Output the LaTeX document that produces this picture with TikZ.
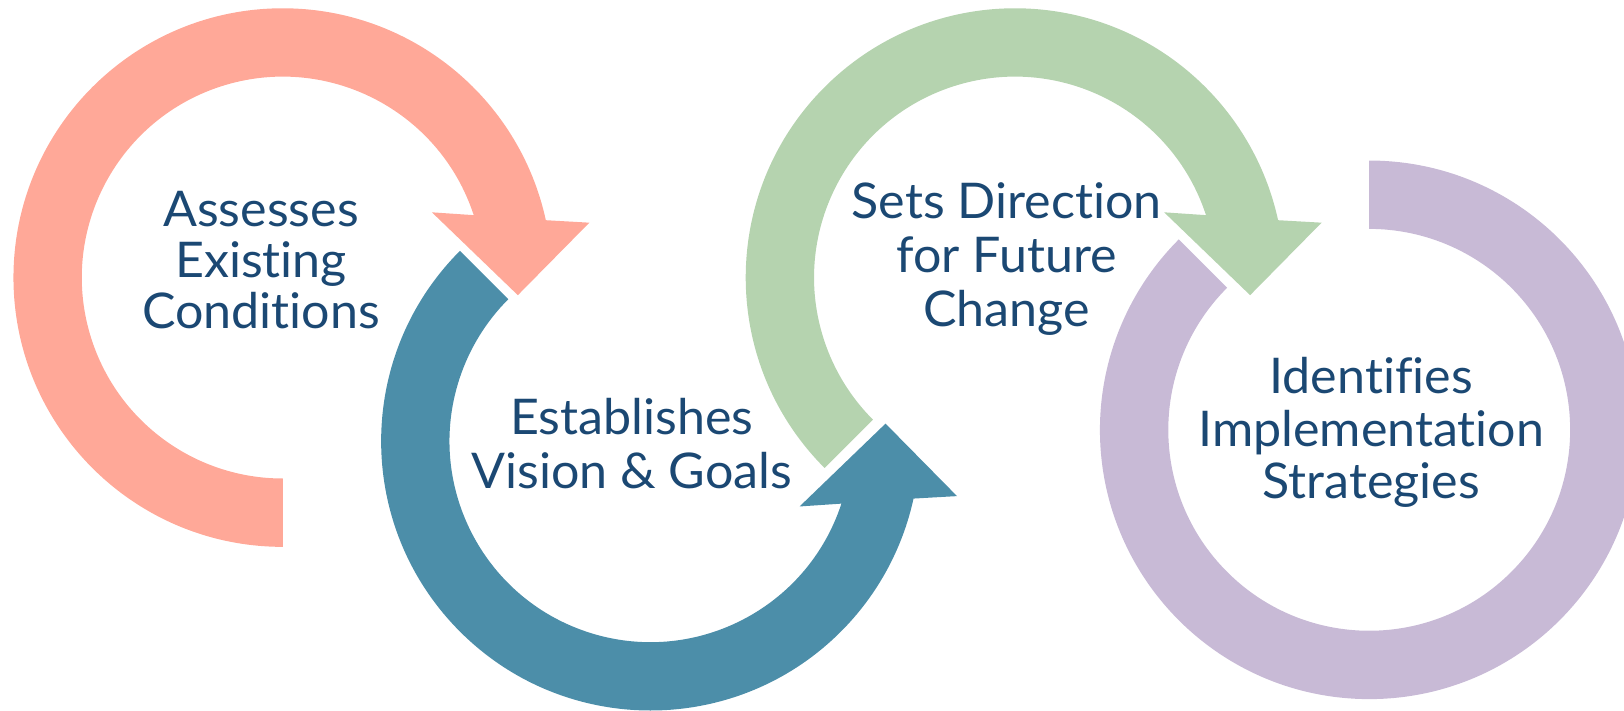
\documentclass[tikz,border=0pt]{standalone}
\usepackage{fontspec}
\setmainfont[Ligatures=NoCommon,FakeStretch=1.02]{Lato}
\definecolor{cpink}{RGB}{255,168,152}
\definecolor{cteal}{RGB}{76,142,169}
\definecolor{cgreen}{RGB}{181,211,175}
\definecolor{cpurple}{RGB}{200,186,214}
\definecolor{ctext}{RGB}{27,72,115}
\begin{document}
\begin{tikzpicture}[x=1pt,y=1pt,
  lbl/.style={text=ctext, font=\fontsize{47.5}{51}\selectfont, inner sep=0pt, anchor=base}]
\useasboundingbox (0,0) rectangle (1568,686);
\clip (0,0) rectangle (1568,686);
% pink arrow
\begin{scope}[shift={(273,418)}]
\fill[cpink] (270:194) -- (270:260) arc[start angle=270, end angle=12.3, radius=260]
  -- (296,53) -- (227,-17) -- (144,63) -- (18.1:194)
  arc[start angle=18.1, end angle=270, radius=194] -- cycle;
\end{scope}
% teal arrow
\begin{scope}[shift={(628,260)}]
\fill[cteal] (135:194) -- (135:260) arc[start angle=135, end angle=347.7, radius=260]
  -- (296,-53) -- (227,17) -- (144,-63) -- (341.9:194)
  arc[start angle=341.9, end angle=135, radius=194] -- cycle;
\end{scope}
% green arrow
\begin{scope}[shift={(980,418)}]
\fill[cgreen] (225:194) -- (225:260) arc[start angle=225, end angle=12.3, radius=260]
  -- (296,53) -- (227,-17) -- (144,63) -- (18.1:194)
  arc[start angle=18.1, end angle=225, radius=194] -- cycle;
\end{scope}
% purple ring
\begin{scope}[shift={(1322,271)}]
\fill[cpurple] (90:194) -- (90:260) arc[start angle=90, end angle=-225, radius=260]
  -- (135:194) arc[start angle=135, end angle=450, radius=194] -- cycle;
\end{scope}
% labels
\node[lbl] (pa) at (252,467) {Assesses};
\node[lbl] (pb) at (252,418) {Existing};
\node[lbl] (pc) at (252,369) {Conditions};
\node[lbl] (ta) at (610,266) {Establishes};
\node[lbl] (tb) at (610,214.5) {Vision \& Goals};
\node[lbl] (ga) at (972,475) {Sets Direction};
\node[lbl] (gb) at (972,422.5) {for Future};
\node[lbl] (gc) at (972,370.5) {Change};
\node[lbl] (ua) at (1324,306) {Identifies};
\node[lbl] (ub) at (1324,255) {Implementation};
\node[lbl] (uc) at (1324,205) {Strategies};
\end{tikzpicture}
\end{document}
